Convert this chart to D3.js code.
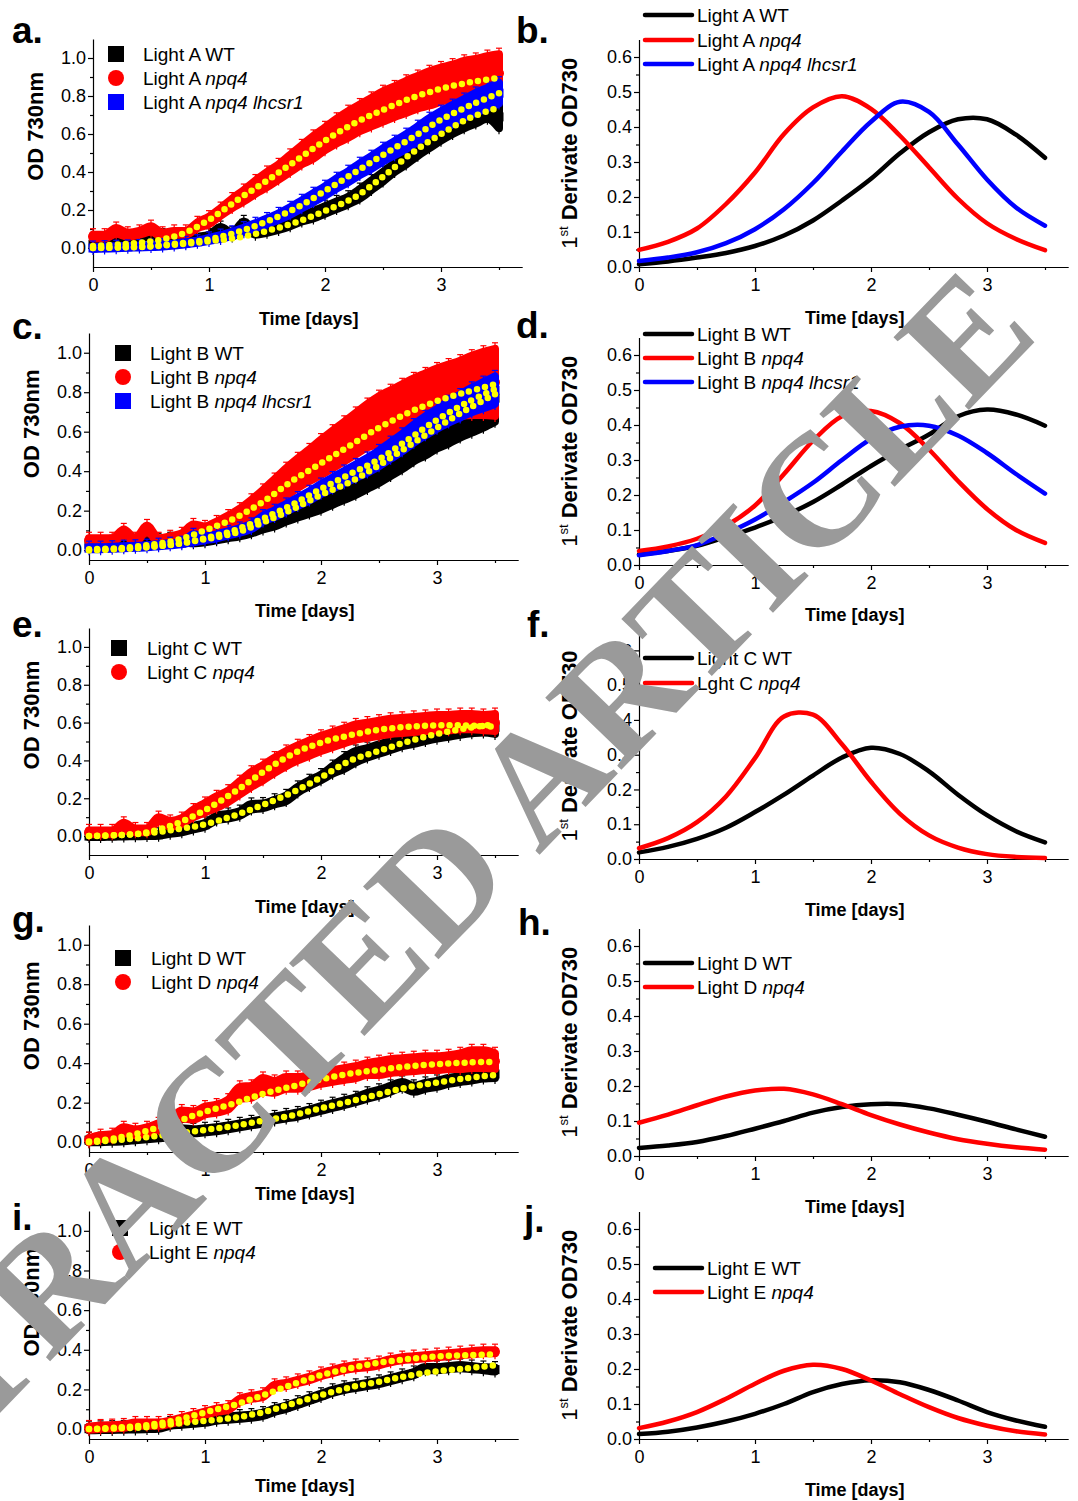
<!DOCTYPE html>
<html>
<head>
<meta charset="utf-8">
<script src="https://cdnjs.cloudflare.com/ajax/libs/d3/7.8.5/d3.min.js"></script>
<style>
  body { margin: 0; background: #fff; }
</style>
</head>
<body>
<svg id="fig" width="1078" height="1501"></svg>
<script>
// time grids (days)
var tData = [0,0.1,0.2,0.3,0.4,0.5,0.6,0.7,0.8,0.9,1.0,1.1,1.2,1.3,1.4,1.5,1.6,1.7,1.8,1.9,
  2.0,2.1,2.2,2.3,2.4,2.5,2.6,2.7,2.8,2.9,3.0,3.1,3.2,3.3,3.4,3.5];
var tFit = [0,0.25,0.5,0.75,1.0,1.25,1.5,1.75,2.0,2.25,2.5,2.75,3.0,3.25,3.5];
var dayTicks = [0,1,2,3];
var dayMinor = [0.5,1.5,2.5,3.5];
var odTicks = [0,0.2,0.4,0.6,0.8,1.0];
var odMinor = [0.1,0.3,0.5,0.7,0.9];
var derivTicks = [0,0.1,0.2,0.3,0.4,0.5,0.6];
var derivMinor = [0.05,0.15,0.25,0.35,0.45,0.55];

// Light A growth (OD730 mean, error, fit)
var aWtMean = [0.02,0.04,0.05,0.05,0.06,0.07,0.06,0.05,0.04,0.05,0.06,0.10,0.07,0.13,0.08,0.095,0.11,0.13,0.155,0.175,
  0.20,0.225,0.25,0.285,0.33,0.375,0.425,0.47,0.515,0.555,0.595,0.63,0.66,0.69,0.715,0.69];
var aWtErr = [0.01,0.01,0.01,0.01,0.01,0.01,0.01,0.01,0.01,0.01,0.01,0.01,0.01,0.01,0.01,0.015,0.015,0.015,0.015,0.02,
  0.02,0.02,0.02,0.025,0.025,0.025,0.025,0.03,0.03,0.03,0.03,0.03,0.03,0.035,0.035,0.06];
var aWtFit = [0,0.003,0.008,0.02,0.035,0.055,0.09,0.135,0.195,0.265,0.375,0.5,0.6,0.685,0.74];
var aNpq4Mean = [0.06,0.06,0.09,0.07,0.08,0.1,0.07,0.08,0.08,0.12,0.145,0.19,0.235,0.275,0.32,0.36,0.40,0.445,0.49,0.53,
  0.575,0.615,0.65,0.685,0.715,0.745,0.77,0.795,0.82,0.84,0.86,0.875,0.89,0.9,0.91,0.92];
var aNpq4Err = [0.01,0.01,0.015,0.01,0.01,0.015,0.01,0.01,0.01,0.015,0.02,0.02,0.025,0.03,0.035,0.04,0.04,0.045,0.05,0.06,
  0.06,0.065,0.07,0.07,0.075,0.08,0.08,0.085,0.085,0.09,0.09,0.09,0.095,0.095,0.1,0.1];
var aNpq4Fit = [0.01,0.02,0.035,0.07,0.148,0.255,0.355,0.46,0.565,0.655,0.727,0.79,0.838,0.872,0.895];
var aLhcMean = [0,0.002,0.004,0.006,0.008,0.01,0.013,0.018,0.025,0.033,0.045,0.058,0.075,0.095,0.117,0.14,0.165,0.195,0.23,0.265,
  0.30,0.34,0.375,0.415,0.45,0.49,0.525,0.56,0.6,0.64,0.675,0.705,0.735,0.765,0.79,0.815];
var aLhcErr = [0.005,0.005,0.005,0.005,0.005,0.005,0.005,0.005,0.005,0.005,0.008,0.01,0.01,0.012,0.013,0.015,0.017,0.019,0.021,0.023,
  0.025,0.027,0.029,0.031,0.033,0.035,0.037,0.039,0.041,0.043,0.045,0.047,0.049,0.051,0.053,0.055];
var aLhcFit = [0,0.003,0.01,0.025,0.045,0.085,0.14,0.21,0.30,0.395,0.49,0.58,0.675,0.75,0.815];

// Light B growth
var cWtMean = [0.03,0.03,0.035,0.03,0.04,0.04,0.045,0.05,0.05,0.045,0.05,0.06,0.07,0.08,0.095,0.12,0.14,0.165,0.19,0.215,
  0.24,0.27,0.30,0.33,0.365,0.40,0.44,0.48,0.52,0.555,0.59,0.62,0.65,0.68,0.71,0.77];
var cWtErr = [0.01,0.01,0.01,0.01,0.01,0.01,0.01,0.01,0.01,0.01,0.01,0.01,0.01,0.01,0.01,0.015,0.02,0.02,0.025,0.03,
  0.035,0.04,0.045,0.05,0.055,0.06,0.065,0.07,0.07,0.075,0.075,0.08,0.08,0.085,0.09,0.12];
var cWtFit = [0,0.005,0.015,0.03,0.055,0.085,0.14,0.205,0.28,0.345,0.43,0.525,0.62,0.71,0.79];
var cNpq4Mean = [0.05,0.05,0.05,0.09,0.05,0.11,0.05,0.06,0.07,0.11,0.10,0.12,0.145,0.17,0.21,0.255,0.30,0.345,0.39,0.43,
  0.47,0.51,0.55,0.59,0.63,0.66,0.69,0.72,0.745,0.77,0.79,0.805,0.82,0.835,0.845,0.85];
var cNpq4Err = [0.01,0.01,0.01,0.015,0.01,0.015,0.01,0.01,0.015,0.02,0.02,0.025,0.03,0.04,0.045,0.05,0.06,0.07,0.075,0.08,
  0.09,0.095,0.1,0.105,0.11,0.12,0.12,0.12,0.125,0.125,0.13,0.135,0.14,0.15,0.16,0.17];
var cNpq4Fit = [0.005,0.01,0.025,0.05,0.1,0.16,0.245,0.35,0.44,0.53,0.62,0.695,0.755,0.8,0.84];
var cLhcMean = [0.01,0.01,0.012,0.015,0.017,0.02,0.025,0.03,0.035,0.06,0.06,0.07,0.085,0.1,0.12,0.16,0.185,0.215,0.245,0.275,
  0.31,0.34,0.37,0.40,0.43,0.465,0.505,0.545,0.59,0.63,0.665,0.70,0.73,0.76,0.785,0.81];
var cLhcErr = [0.005,0.005,0.005,0.005,0.005,0.005,0.005,0.005,0.005,0.02,0.01,0.01,0.01,0.012,0.013,0.015,0.017,0.019,0.021,0.023,
  0.025,0.028,0.031,0.034,0.037,0.04,0.042,0.044,0.046,0.048,0.05,0.054,0.058,0.062,0.066,0.07];
var cLhcFit = [0,0.005,0.015,0.03,0.06,0.1,0.16,0.23,0.31,0.385,0.46,0.56,0.66,0.745,0.815];

// Light C growth
var eWtMean = [0,0,0.002,0.003,0.004,0.005,0.007,0.02,0.03,0.045,0.06,0.095,0.105,0.12,0.155,0.16,0.18,0.2,0.245,0.28,
  0.31,0.35,0.385,0.42,0.44,0.46,0.48,0.5,0.515,0.53,0.545,0.555,0.565,0.575,0.58,0.575];
var eWtErr = [0.005,0.005,0.005,0.005,0.005,0.005,0.005,0.008,0.01,0.01,0.01,0.012,0.012,0.012,0.015,0.012,0.012,0.015,0.015,0.015,
  0.015,0.02,0.03,0.03,0.025,0.025,0.025,0.025,0.028,0.028,0.03,0.03,0.03,0.032,0.032,0.035];
var eWtFit = [0,0.005,0.015,0.035,0.062,0.108,0.165,0.23,0.31,0.398,0.45,0.5,0.54,0.57,0.59];
var eNpq4Mean = [0.02,0.02,0.02,0.05,0.03,0.03,0.09,0.065,0.08,0.12,0.15,0.18,0.21,0.255,0.3,0.335,0.375,0.41,0.44,0.465,
  0.49,0.51,0.53,0.55,0.56,0.57,0.58,0.585,0.59,0.595,0.6,0.6,0.605,0.605,0.6,0.6];
var eNpq4Err = [0.01,0.01,0.01,0.02,0.01,0.01,0.01,0.015,0.015,0.02,0.025,0.03,0.03,0.035,0.04,0.04,0.04,0.04,0.04,0.04,
  0.04,0.04,0.04,0.04,0.04,0.04,0.04,0.04,0.04,0.04,0.04,0.04,0.04,0.04,0.04,0.045];
var eNpq4Fit = [0,0.005,0.02,0.065,0.137,0.232,0.338,0.432,0.494,0.533,0.562,0.578,0.585,0.585,0.578];

// Light D growth
var gWtMean = [0.01,0.01,0.012,0.015,0.02,0.025,0.03,0.035,0.06,0.055,0.06,0.065,0.075,0.085,0.095,0.105,0.12,0.13,0.14,0.155,
  0.17,0.185,0.2,0.215,0.235,0.25,0.27,0.29,0.27,0.285,0.295,0.31,0.32,0.33,0.34,0.345];
var gWtErr = [0.01,0.01,0.01,0.01,0.01,0.01,0.01,0.01,0.01,0.01,0.01,0.01,0.01,0.01,0.01,0.01,0.01,0.01,0.01,0.01,
  0.012,0.012,0.012,0.012,0.015,0.015,0.015,0.015,0.015,0.015,0.015,0.015,0.015,0.018,0.018,0.02];
var gWtFit = [0,0.01,0.025,0.043,0.062,0.082,0.109,0.135,0.172,0.206,0.243,0.278,0.302,0.324,0.34];
var gNpq4Mean = [0.01,0.025,0.03,0.06,0.05,0.06,0.08,0.1,0.14,0.135,0.16,0.17,0.19,0.25,0.255,0.29,0.28,0.3,0.3,0.31,
  0.325,0.335,0.345,0.355,0.37,0.375,0.385,0.39,0.395,0.4,0.4,0.405,0.41,0.42,0.42,0.41];
var gNpq4Err = [0.01,0.01,0.01,0.015,0.015,0.015,0.015,0.015,0.02,0.02,0.02,0.02,0.025,0.03,0.03,0.035,0.03,0.03,0.03,0.03,
  0.03,0.03,0.03,0.03,0.03,0.035,0.035,0.035,0.035,0.035,0.035,0.035,0.04,0.045,0.045,0.04];
var gNpq4Fit = [0.003,0.022,0.057,0.103,0.154,0.196,0.245,0.282,0.318,0.347,0.366,0.384,0.395,0.403,0.407];

// Light E growth
var iWtMean = [0.002,0.003,0.004,0.005,0.006,0.008,0.01,0.025,0.03,0.035,0.04,0.05,0.055,0.06,0.065,0.075,0.095,0.11,0.13,0.15,
  0.17,0.19,0.205,0.215,0.225,0.235,0.25,0.265,0.28,0.305,0.305,0.31,0.315,0.31,0.305,0.3];
var iWtErr = [0.008,0.008,0.008,0.008,0.008,0.008,0.008,0.008,0.008,0.008,0.008,0.008,0.008,0.008,0.008,0.008,0.008,0.008,0.008,0.008,
  0.008,0.008,0.008,0.008,0.008,0.008,0.008,0.008,0.008,0.008,0.008,0.008,0.008,0.008,0.008,0.01];
var iWtFit = [0,0.003,0.01,0.027,0.042,0.057,0.085,0.127,0.171,0.21,0.239,0.269,0.292,0.306,0.322];
var iNpq4Mean = [0.005,0.01,0.012,0.015,0.025,0.025,0.025,0.035,0.05,0.065,0.08,0.095,0.105,0.145,0.16,0.17,0.215,0.225,0.24,0.255,
  0.275,0.29,0.305,0.315,0.32,0.33,0.345,0.355,0.36,0.365,0.37,0.375,0.38,0.385,0.39,0.39];
var iNpq4Err = [0.008,0.008,0.008,0.008,0.008,0.008,0.008,0.008,0.008,0.008,0.008,0.008,0.008,0.008,0.008,0.008,0.008,0.008,0.008,0.008,
  0.008,0.008,0.008,0.008,0.008,0.008,0.008,0.008,0.008,0.008,0.008,0.008,0.008,0.008,0.008,0.008];
var iNpq4Fit = [0,0.008,0.02,0.045,0.084,0.122,0.171,0.224,0.272,0.307,0.335,0.353,0.366,0.373,0.377];

// 1st derivative of OD730 (sampled on tFit)
var bWt = [0.008,0.016,0.027,0.04,0.06,0.09,0.133,0.19,0.252,0.325,0.385,0.422,0.422,0.378,0.312];
var bNpq4 = [0.049,0.072,0.11,0.18,0.27,0.38,0.456,0.488,0.452,0.375,0.285,0.195,0.125,0.08,0.048];
var bLhc = [0.017,0.027,0.042,0.068,0.108,0.165,0.24,0.33,0.415,0.472,0.443,0.35,0.25,0.17,0.118];
var dWt = [0.03,0.04,0.055,0.08,0.107,0.14,0.18,0.23,0.283,0.33,0.373,0.425,0.444,0.43,0.398];
var dNpq4 = [0.04,0.053,0.075,0.112,0.17,0.26,0.355,0.425,0.44,0.405,0.33,0.24,0.16,0.1,0.063];
var dLhc = [0.028,0.04,0.057,0.09,0.13,0.18,0.235,0.3,0.36,0.395,0.398,0.37,0.32,0.26,0.204];
var fWt = [0.019,0.035,0.058,0.09,0.135,0.185,0.24,0.292,0.32,0.302,0.252,0.185,0.126,0.08,0.048];
var fNpq4 = [0.031,0.06,0.106,0.18,0.29,0.41,0.415,0.33,0.222,0.13,0.068,0.033,0.014,0.006,0.003];
var hWt = [0.023,0.03,0.04,0.057,0.078,0.1,0.124,0.14,0.148,0.148,0.136,0.118,0.098,0.076,0.055];
var hNpq4 = [0.095,0.118,0.145,0.17,0.187,0.192,0.176,0.148,0.117,0.09,0.067,0.048,0.035,0.025,0.018];
var jWt = [0.014,0.021,0.033,0.05,0.072,0.1,0.134,0.157,0.168,0.162,0.14,0.11,0.077,0.053,0.035];
var jNpq4 = [0.031,0.05,0.077,0.115,0.158,0.195,0.212,0.2,0.167,0.128,0.091,0.06,0.038,0.022,0.013];

var BLACK = '#000000', RED = '#ff0000', BLUE = '#0000ff', YELLOW = '#ffff00';
var FONT = '"Liberation Sans", Arial, Helvetica, sans-serif';
var PX_PER_DAY = 116;

var svg = d3.select('#fig');

function wt(light) { return {plain: 'Light ' + light + ' WT', ital: ''}; }
function npq(light) { return {plain: 'Light ' + light + ' ', ital: 'npq4'}; }
function lhc(light) { return {plain: 'Light ' + light + ' ', ital: 'npq4 lhcsr1'}; }

var growthPanels = [
  {letter: 'a.', lx: 12, ly: 43, x0: 93, yTop: 39, yBot: 267, yDom: [-0.1, 1.1], titleY: 325,
    legY: 54, symX: 116, textX: 143,
    series: [
      {color: BLACK, shape: 'square', mean: aWtMean, err: aWtErr, fit: aWtFit, label: wt('A')},
      {color: RED, shape: 'circle', mean: aNpq4Mean, err: aNpq4Err, fit: aNpq4Fit, label: npq('A')},
      {color: BLUE, shape: 'square', mean: aLhcMean, err: aLhcErr, fit: aLhcFit, label: lhc('A')}
    ]},
  {letter: 'c.', lx: 12, ly: 339, x0: 89, yTop: 333, yBot: 560, yDom: [-0.05, 1.1], titleY: 617,
    legY: 353, symX: 123, textX: 150,
    series: [
      {color: BLACK, shape: 'square', mean: cWtMean, err: cWtErr, fit: cWtFit, label: wt('B')},
      {color: RED, shape: 'circle', mean: cNpq4Mean, err: cNpq4Err, fit: cNpq4Fit, label: npq('B')},
      {color: BLUE, shape: 'square', mean: cLhcMean, err: cLhcErr, fit: cLhcFit, label: lhc('B')}
    ]},
  {letter: 'e.', lx: 12, ly: 637, x0: 89, yTop: 628, yBot: 855, yDom: [-0.1, 1.1], titleY: 913,
    legY: 648, symX: 119, textX: 147,
    series: [
      {color: BLACK, shape: 'square', mean: eWtMean, err: eWtErr, fit: eWtFit, label: wt('C')},
      {color: RED, shape: 'circle', mean: eNpq4Mean, err: eNpq4Err, fit: eNpq4Fit, label: npq('C')}
    ]},
  {letter: 'g.', lx: 12, ly: 932, x0: 89, yTop: 925, yBot: 1152, yDom: [-0.05, 1.1], titleY: 1200,
    legY: 958, symX: 123, textX: 151,
    series: [
      {color: BLACK, shape: 'square', mean: gWtMean, err: gWtErr, fit: gWtFit, label: wt('D')},
      {color: RED, shape: 'circle', mean: gNpq4Mean, err: gNpq4Err, fit: gNpq4Fit, label: npq('D')}
    ]},
  {letter: 'i.', lx: 12, ly: 1230, x0: 89, yTop: 1211, yBot: 1439, yDom: [-0.05, 1.1], titleY: 1492,
    legY: 1228, symX: 120, textX: 149,
    series: [
      {color: BLACK, shape: 'square', mean: iWtMean, err: iWtErr, fit: iWtFit, label: wt('E')},
      {color: RED, shape: 'circle', mean: iNpq4Mean, err: iNpq4Err, fit: iNpq4Fit, label: npq('E')}
    ]}
];

var derivPanels = [
  {letter: 'b.', lx: 516, ly: 43, yTop: 39.5, yBot: 267, titleY: 324, legRows: [15, 40, 64], legX: 645,
    series: [
      {color: BLACK, values: bWt, label: wt('A')},
      {color: RED, values: bNpq4, label: npq('A')},
      {color: BLUE, values: bLhc, label: lhc('A')}
    ]},
  {letter: 'd.', lx: 516, ly: 338, yTop: 337.5, yBot: 565, titleY: 621, legRows: [334, 358, 382], legX: 645,
    series: [
      {color: BLACK, values: dWt, label: wt('B')},
      {color: RED, values: dNpq4, label: npq('B')},
      {color: BLUE, values: dLhc, label: lhc('B')}
    ]},
  {letter: 'f.', lx: 527, ly: 637, yTop: 633, yBot: 859, titleY: 916, legRows: [658, 683], legX: 645,
    series: [
      {color: BLACK, values: fWt, label: wt('C')},
      {color: RED, values: fNpq4, label: {plain: 'Lght C ', ital: 'npq4'}}
    ]},
  {letter: 'h.', lx: 518, ly: 935, yTop: 928.5, yBot: 1156, titleY: 1213, legRows: [963, 987], legX: 645,
    series: [
      {color: BLACK, values: hWt, label: wt('D')},
      {color: RED, values: hNpq4, label: npq('D')}
    ]},
  {letter: 'j.', lx: 524, ly: 1232, yTop: 1211.5, yBot: 1439, titleY: 1496, legRows: [1268, 1292], legX: 655,
    series: [
      {color: BLACK, values: jWt, label: wt('E')},
      {color: RED, values: jNpq4, label: npq('E')}
    ]}
];

function styleAxis(g, keepDomain) {
  g.attr('font-family', FONT).attr('font-size', 18);
  g.selectAll('line').attr('stroke', '#000').attr('stroke-width', 1.2);
  g.selectAll('path.domain').attr('stroke', '#000').attr('stroke-width', 1.2);
  if (!keepDomain) {
    g.select('path.domain').remove();
  }
  g.selectAll('text').attr('fill', '#000');
}

/**
 * Left and bottom axes, major and minor ticks, panel letter and x title.
 */
function drawFrame(p, x, y, yTicks, yMinor, yFormat) {
  var gx = svg.append('g').attr('transform', 'translate(0,' + p.yBot + ')');
  gx.call(d3.axisBottom(x).tickValues(dayTicks).tickFormat(d3.format('d'))
    .tickSize(5).tickSizeOuter(0).tickPadding(6));
  styleAxis(gx, true);
  var gxm = svg.append('g').attr('transform', 'translate(0,' + p.yBot + ')');
  gxm.call(d3.axisBottom(x).tickValues(dayMinor).tickFormat('').tickSize(3));
  styleAxis(gxm, false);

  var gy = svg.append('g').attr('transform', 'translate(' + x.range()[0] + ',0)');
  gy.call(d3.axisLeft(y).tickValues(yTicks).tickFormat(yFormat)
    .tickSize(5).tickSizeOuter(0).tickPadding(2));
  styleAxis(gy, true);
  var gym = svg.append('g').attr('transform', 'translate(' + x.range()[0] + ',0)');
  gym.call(d3.axisLeft(y).tickValues(yMinor).tickFormat('').tickSize(3));
  styleAxis(gym, false);

  svg.append('text')
    .attr('x', p.lx).attr('y', p.ly)
    .attr('font-family', FONT).attr('font-size', 37).attr('font-weight', 'bold')
    .text(p.letter);

  svg.append('text')
    .attr('x', x(1.86)).attr('y', p.titleY)
    .attr('text-anchor', 'middle')
    .attr('font-family', FONT).attr('font-size', 18).attr('font-weight', 'bold')
    .text('Time [days]');
}

function addLabel(sel, label) {
  sel.append('tspan').text(label.plain);
  if (label.ital) {
    sel.append('tspan').attr('font-style', 'italic').text(label.ital);
  }
}

function drawGrowth(p) {
  var x = d3.scaleLinear().domain([0, 3.7]).range([p.x0, p.x0 + 3.7 * PX_PER_DAY]);
  var y = d3.scaleLinear().domain(p.yDom).range([p.yBot, p.yTop]);

  drawFrame(p, x, y, odTicks, odMinor, d3.format('.1f'));

  svg.append('text')
    .attr('transform', 'translate(' + (p.x0 - 58) + ',' + y(0.64) + ') rotate(-90)')
    .attr('text-anchor', 'middle').attr('dy', '0.35em')
    .attr('font-family', FONT).attr('font-size', 22).attr('font-weight', 'bold')
    .text('OD 730nm');

  var band = d3.area()
    .x(function(d) { return x(d.t); })
    .y0(function(d) { return y(d.m - d.e); })
    .y1(function(d) { return y(d.m + d.e); })
    .curve(d3.curveMonotoneX);

  var g = svg.append('g');
  p.series.forEach(function(s) {
    var pts = tData.map(function(t, i) { return {t: t, m: s.mean[i], e: s.err[i]}; });
    g.append('path')
      .attr('d', band(pts))
      .attr('fill', s.color).attr('stroke', s.color)
      .attr('stroke-width', 8).attr('stroke-linejoin', 'round');
    // error bars with caps
    var eb = g.append('g').attr('stroke', s.color).attr('stroke-width', 1.2);
    eb.selectAll('line.v').data(pts).enter().append('line')
      .attr('x1', function(d) { return x(d.t); }).attr('x2', function(d) { return x(d.t); })
      .attr('y1', function(d) { return y(d.m - d.e) + 6; })
      .attr('y2', function(d) { return y(d.m + d.e) - 6; });
    eb.selectAll('line.c').data(pts).enter().append('line')
      .attr('x1', function(d) { return x(d.t) - 3; }).attr('x2', function(d) { return x(d.t) + 3; })
      .attr('y1', function(d) { return y(d.m + d.e) - 6; })
      .attr('y2', function(d) { return y(d.m + d.e) - 6; });
    if (s.shape === 'circle') {
      g.selectAll(null).data(pts).enter().append('circle')
        .attr('cx', function(d) { return x(d.t); })
        .attr('cy', function(d) { return y(d.m); })
        .attr('r', 5).attr('fill', s.color);
    } else {
      g.selectAll(null).data(pts).enter().append('rect')
        .attr('x', function(d) { return x(d.t) - 4.5; })
        .attr('y', function(d) { return y(d.m) - 4.5; })
        .attr('width', 9).attr('height', 9).attr('fill', s.color);
    }
  });

  // fitted curves as yellow dotted lines
  var fitLine = d3.line()
    .x(function(d, i) { return x(tFit[i]); })
    .y(function(d) { return y(d); })
    .curve(d3.curveCatmullRom);
  p.series.forEach(function(s) {
    g.append('path')
      .attr('d', fitLine(s.fit))
      .attr('fill', 'none').attr('stroke', YELLOW)
      .attr('stroke-width', 6.5).attr('stroke-linecap', 'round')
      .attr('stroke-dasharray', '0 8.2');
  });

  // legend
  var lg = svg.append('g').attr('font-family', FONT).attr('font-size', 19);
  p.series.forEach(function(s, i) {
    var cy = p.legY + i * 24;
    if (s.shape === 'circle') {
      lg.append('circle').attr('cx', p.symX).attr('cy', cy).attr('r', 8).attr('fill', s.color);
    } else {
      lg.append('rect').attr('x', p.symX - 8).attr('y', cy - 8)
        .attr('width', 16).attr('height', 16).attr('fill', s.color);
    }
    addLabel(lg.append('text').attr('x', p.textX).attr('y', cy + 7), s.label);
  });
}

function drawDeriv(p) {
  var x = d3.scaleLinear().domain([0, 3.7]).range([639, 639 + 3.7 * PX_PER_DAY]);
  var y = d3.scaleLinear().domain([0, 0.65]).range([p.yBot, p.yTop]);

  drawFrame(p, x, y, derivTicks, derivMinor, d3.format('.1f'));

  var yt = svg.append('text')
    .attr('transform', 'translate(569,' + ((p.yTop + p.yBot) / 2) + ') rotate(-90)')
    .attr('text-anchor', 'middle').attr('dy', '0.35em')
    .attr('font-family', FONT).attr('font-size', 22);
  yt.append('tspan').text('1');
  yt.append('tspan').attr('font-size', 13).attr('dy', -9).text('st');
  yt.append('tspan').attr('font-weight', 'bold').attr('dy', 9).text(' Derivate OD730');

  var line = d3.line()
    .x(function(d, i) { return x(tFit[i]); })
    .y(function(d) { return y(d); })
    .curve(d3.curveCatmullRom);

  var g = svg.append('g');
  p.series.forEach(function(s) {
    g.append('path')
      .attr('d', line(s.values))
      .attr('fill', 'none').attr('stroke', s.color)
      .attr('stroke-width', 4.5).attr('stroke-linecap', 'round');
  });

  var lg = svg.append('g').attr('font-family', FONT).attr('font-size', 19);
  p.series.forEach(function(s, i) {
    var cy = p.legRows[i];
    lg.append('line')
      .attr('x1', p.legX).attr('x2', p.legX + 47)
      .attr('y1', cy).attr('y2', cy)
      .attr('stroke', s.color).attr('stroke-width', 4.5).attr('stroke-linecap', 'round');
    addLabel(lg.append('text').attr('x', p.legX + 52).attr('y', cy + 7), s.label);
  });
}

growthPanels.forEach(drawGrowth);
derivPanels.forEach(drawDeriv);

// retraction watermark over the whole figure
svg.append('text')
  .attr('transform', 'translate(430,968) rotate(-46)')
  .attr('text-anchor', 'middle')
  .attr('font-family', '"Liberation Serif", "Times New Roman", serif')
  .attr('font-size', 160)
  .attr('font-weight', 'bold')
  .attr('fill', '#9a9a9a')
  .text('RETRACTED ARTICLE');
</script>
</body>
</html>
